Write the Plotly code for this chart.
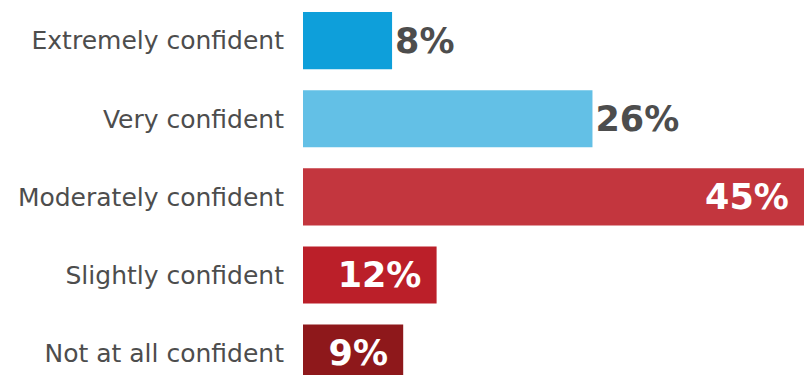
import plotly.graph_objects as go

# Survey responses: confidence level and share of respondents (%)
categories = [
    "Extremely confident",
    "Very confident",
    "Moderately confident",
    "Slightly confident",
    "Not at all confident",
]
values = [8, 26, 45, 12, 9]
value_labels = ["8%", "26%", "45%", "12%", "9%"]

bar_colors = ["#0e9fda", "#63c0e6", "#c3363e", "#bb1f29", "#8e181b"]
label_positions = ["outside", "outside", "inside", "inside", "inside"]

# inside labels sit a little away from the bar end
pad = "\u00a0"
bar_text = [
    lbl + (pad if pos == "inside" else "")
    for lbl, pos in zip(value_labels, label_positions)
]

fig = go.Figure(
    go.Bar(
        x=values,
        y=categories,
        orientation="h",
        marker=dict(color=bar_colors, line=dict(width=0)),
        width=0.73,
        text=bar_text,
        textposition=label_positions,
        insidetextanchor="end",
        textangle=0,
        constraintext="none",
        cliponaxis=False,
        insidetextfont=dict(family="DejaVu Sans", size=35, color="#ffffff", weight="bold"),
        outsidetextfont=dict(family="DejaVu Sans", size=35, color="#4d4d4d", weight="bold"),
        hoverinfo="skip",
    )
)

fig.update_layout(
    width=804,
    height=375,
    margin=dict(l=303, r=0, t=0, b=0),
    paper_bgcolor="#ffffff",
    plot_bgcolor="#ffffff",
    showlegend=False,
    xaxis=dict(
        range=[0, 45],
        visible=False,
        fixedrange=True,
    ),
    yaxis=dict(
        type="category",
        categoryorder="array",
        categoryarray=categories,
        range=[4.28, -0.52],
        showgrid=False,
        showline=False,
        zeroline=False,
        ticks="",
        ticklabelstandoff=18,
        tickfont=dict(family="DejaVu Sans", size=25, color="#4d4d4d"),
        automargin=False,
        fixedrange=True,
    ),
)

fig.write_html("out.html")
